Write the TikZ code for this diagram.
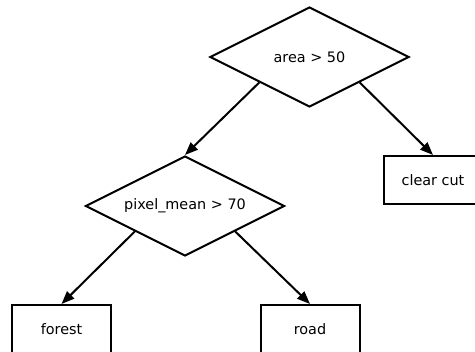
\documentclass[tikz,border=0pt]{standalone}
\usepackage{fontspec}
\setmainfont{DejaVu Sans}
\usetikzlibrary{shapes.geometric,arrows.meta}

\begin{document}
\begin{tikzpicture}[x=1pt,y=-1pt,line width=2pt,
    font=\fontsize{14.4}{17}\selectfont,
    decision/.style={draw,diamond,aspect=2,inner sep=0pt,minimum width=199pt,minimum height=100pt},
    leaf/.style={draw,rectangle,minimum width=99pt,minimum height=48pt},
    edge/.style={-{Triangle[length=13pt,width=10pt]}}]
          \useasboundingbox (0,0) rectangle (475,352);
          %\draw[very thin,lightgray] (0,0) grid[step=50] (475,352);
          \node[decision] (area) at (309.5,57) {area > 50};
          \node[decision] (pixmean) at (185,206) {pixel\_mean > 70};
          \node[leaf] (clearcut) at (433,180) {clear cut};
          \node[leaf] (forest) at (61.5,329) {forest};
          \node[leaf] (road) at (310,329) {road};
          \draw[edge] (area.south west)--(pixmean.north);
          \draw[edge] (area.south east)--(clearcut.north);
          \draw[edge] (pixmean.south west)--(forest.north);
          \draw[edge] (pixmean.south east)--(road.north);
        \end{tikzpicture}
\end{document}
